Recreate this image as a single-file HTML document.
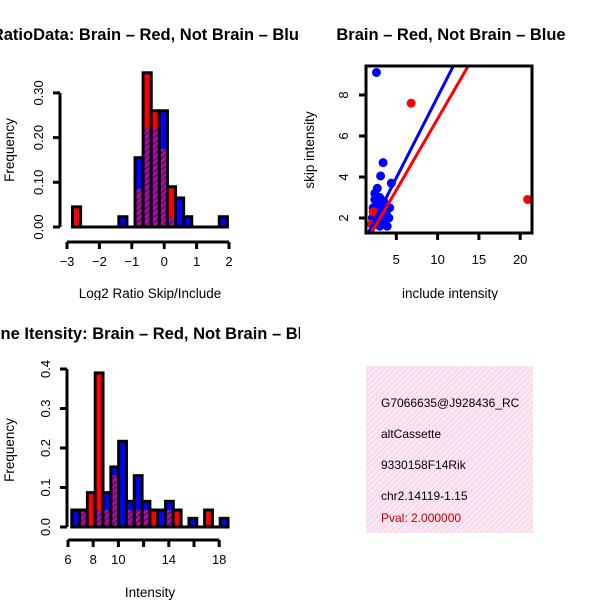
<!DOCTYPE html>
<html><head><meta charset="utf-8"><style>
body{margin:0;background:#fff;}
svg{display:block;font-family:"Liberation Sans",Arial,sans-serif;}
</style></head><body>
<svg id="root" width="600" height="600" viewBox="0 0 600 600">
<defs>
<pattern id="hatch" width="4" height="4" patternUnits="userSpaceOnUse" patternTransform="rotate(45)">
<rect width="4" height="4" fill="#8b008b"/><line x1="0" y1="0" x2="0" y2="4" stroke="#b040b0" stroke-width="1.5"/>
</pattern>
<pattern id="pinkhatch" width="4" height="4" patternUnits="userSpaceOnUse" patternTransform="rotate(45)">
<rect width="4" height="4" fill="#fbe6f3"/><line x1="0" y1="0" x2="0" y2="4" stroke="#f2c2e0" stroke-width="1.2"/>
</pattern>
</defs>
<svg id="p1" x="0" y="0" width="300" height="300"></svg>
<svg id="p2" x="300" y="0" width="300" height="300"></svg>
<svg id="p3" x="0" y="300" width="300" height="300"></svg>
<g>
<rect x="366" y="366" width="167" height="167" fill="url(#pinkhatch)"/>
<svg x="366" y="366" width="167" height="167">
<text x="15" y="41" font-size="12">G7066635@J928436_RC</text>
<text x="15" y="72" font-size="12">altCassette</text>
<text x="15" y="103" font-size="12">9330158F14Rik</text>
<text x="15" y="134" font-size="12">chr2.14119-1.15</text>
<text x="15" y="156" font-size="12" fill="#c00000">Pval: 2.000000</text>
</svg>
</g>
</svg>
<script>
// ---- Histogram 1 data ----
const h1Width = 0.25;
const h1Bins = [-2.83,-1.4,-0.9,-0.65,-0.4,-0.15,0.1,0.35,0.6,1.7];
const h1Red  = [0.045,0,0.085,0.345,0.26,0.175,0.09,0,0,0];
const h1Blue = [0,0.023,0.155,0.22,0.22,0.26,0.023,0.065,0.023,0.023];
const h1XTicks = [-3,-2,-1,0,1,2];
const h1YTicks = ["0.00","0.10","0.20","0.30"];
// ---- Histogram 2 data ----
const h2Width = 0.62;
const h2Bins = [6.3,6.92,7.54,8.16,8.78,9.4,10.02,10.64,11.26,11.88,12.5,13.12,13.74,14.36,14.98,15.6,16.22,16.84,17.46,18.08];
const h2Red  = [0,0.043,0.087,0.39,0.043,0.13,0,0.043,0.043,0.043,0.043,0,0.043,0.043,0,0,0,0.043,0,0];
const h2Blue = [0.043,0.043,0,0.043,0.087,0.152,0.217,0.065,0.13,0.065,0,0.043,0.065,0,0,0.022,0,0,0,0.022];
const h2XTicks = [6,8,10,14,18];
const h2XMinor = [6,8,10,12,14,16,18];
const h2YTicks = ["0.0","0.1","0.2","0.3","0.4"];
// ---- Scatter data ----
const scRedX = [6.8,20.9,2.0,2.2];
const scRedY = [7.6,2.9,1.7,2.3];
const scBlueX = [2.6,3.4,3.1,4.4,2.7,2.4,2.4,2.2,2.9,3.3,3.8,2.5,3.0,3.6,4.1,2.3,2.8,3.2,3.9,2.6,3.5,4.2,3.0,2.1,3.7,2.9];
const scBlueY = [9.1,4.7,4.05,3.7,3.45,3.2,2.9,2.5,2.7,2.4,2.2,2.1,3.0,2.6,2.0,1.9,1.8,2.2,1.6,2.3,2.8,2.5,1.6,2.0,1.9,2.1];
const lineBlue = [1.6,1.27,11.9,9.41];
const lineRed  = [2.0,1.27,13.7,9.41];
const scXTicks = [5,10,15,20];
const scYTicks = [2,4,6,8];

const NS="http://www.w3.org/2000/svg";
function mk(parent,tag,attrs,text){const e=document.createElementNS(NS,tag);for(const k in attrs)e.setAttribute(k,attrs[k]);if(text!==undefined)e.textContent=text;parent.appendChild(e);return e;}

function histogram(svg,o){
  const X=v=>o.x0+(v-o.xv0)*o.kx, Y=v=>o.y0-v*o.ky;
  const t=mk(svg,'text',{x:150,y:o.titleY,'text-anchor':'middle','font-size':16.5,'font-weight':'bold'},o.title);
  
  // baseline
  const fx=X(o.bins[0]), lx=X(o.bins[o.bins.length-1]+o.w);
  mk(svg,'line',{x1:fx,x2:lx,y1:Y(0),y2:Y(0),stroke:'#000','stroke-width':3});
  o.red.forEach((r,i)=>{
    const b=o.blue[i]; if(r===0&&b===0) return;
    const x1=X(o.bins[i]), x2=X(o.bins[i]+o.w);
    const hi=Math.max(r,b), lo=Math.min(r,b);
    const g=mk(svg,'g',{});
    
    mk(g,'rect',{x:x1,y:Y(hi),width:x2-x1,height:Y(0)-Y(hi),fill:r>b?'#ff0000':'#0000ff'});
    if(lo>0) mk(g,'rect',{x:x1,y:Y(lo),width:x2-x1,height:Y(0)-Y(lo),fill:'url(#hatch)'});
    mk(g,'rect',{x:x1,y:Y(hi),width:x2-x1,height:Y(0)-Y(hi),fill:'none',stroke:'#000','stroke-width':3});
  });
  const ya=mk(svg,'g',{});
  const yt=o.yTicks.map(parseFloat);
  mk(ya,'line',{x1:o.yAxisX,x2:o.yAxisX,y1:Y(yt[0]),y2:Y(yt[yt.length-1]),stroke:'#000','stroke-width':3});
  o.yTicks.forEach(s=>{const v=parseFloat(s);
    mk(ya,'line',{x1:o.yAxisX-7,x2:o.yAxisX,y1:Y(v),y2:Y(v),stroke:'#000','stroke-width':3});
    const tl=mk(ya,'text',{x:o.yAxisX-17,y:Y(v),'font-size':13,'text-anchor':'middle',transform:`rotate(-90 ${o.yAxisX-17} ${Y(v)})`},s);
    
  });
  const xa=mk(svg,'g',{});
  const mt=o.xMinor||o.xTicks;
  mk(xa,'line',{x1:X(mt[0]),x2:X(mt[mt.length-1]),y1:o.xAxisY,y2:o.xAxisY,stroke:'#000','stroke-width':3});
  mt.forEach(v=>mk(xa,'line',{x1:X(v),x2:X(v),y1:o.xAxisY,y2:o.xAxisY+7,stroke:'#000','stroke-width':3}));
  o.xTicks.forEach(v=>{const tl=mk(xa,'text',{x:X(v),y:o.xAxisY+24,'font-size':13,'text-anchor':'middle'},String(v).replace('-','\u2212'));
    });
  const xl=mk(svg,'text',{x:150,y:o.xLabelY,'font-size':13.5,'text-anchor':'middle'},o.xLabel);
  
  const yl=mk(svg,'text',{x:14,y:o.yLabelCY,'font-size':13.5,'text-anchor':'middle',transform:`rotate(-90 14 ${o.yLabelCY})`},'Frequency');
  
}

histogram(document.getElementById('p1'),{red:h1Red,blue:h1Blue,bins:h1Bins,w:h1Width,xv0:-3,x0:67,kx:32.4,y0:227,ky:447,
  yTicks:h1YTicks,xTicks:h1XTicks,yAxisX:60,xAxisY:242,title:'RatioData: Brain \u2013 Red, Not Brain \u2013 Blue',titleY:40,
  xLabel:'Log2 Ratio Skip/Include',xLabelY:298,yLabelCY:150});
histogram(document.getElementById('p3'),{red:h2Red,blue:h2Blue,bins:h2Bins,w:h2Width,xv0:6,x0:68,kx:12.6,y0:227,ky:395,
  yTicks:h2YTicks,xTicks:h2XTicks,xMinor:h2XMinor,yAxisX:67,xAxisY:240,title:'Gene Itensity: Brain \u2013 Red, Not Brain \u2013 Blue',titleY:39,
  xLabel:'Intensity',xLabelY:297,yLabelCY:150});

(function(){
  const svg=document.getElementById('p2');
  const X=v=>55+v*8.26, Y=v=>259-v*20.5;
  const t=mk(svg,'text',{x:151,y:40,'text-anchor':'middle','font-size':16.5,'font-weight':'bold'},'Brain \u2013 Red, Not Brain \u2013 Blue');
  
  const clip=mk(svg,'svg',{x:66,y:66,width:166,height:167});
  const cg=mk(clip,'g',{transform:'translate(-66,-66)'});
  scBlueX.forEach((x,i)=>{const c=mk(cg,'circle',{cx:X(x),cy:Y(scBlueY[i]),r:4.5,fill:'#0000ff'});
    });
  scRedX.forEach((x,i)=>{const c=mk(cg,'circle',{cx:X(x),cy:Y(scRedY[i]),r:4.5,fill:'#ff0000'});
    });
  const lb=mk(cg,'line',{x1:X(lineBlue[0]),y1:Y(lineBlue[1]),x2:X(lineBlue[2]),y2:Y(lineBlue[3]),stroke:'#0000ff','stroke-width':3});
  
  const lr=mk(cg,'line',{x1:X(lineRed[0]),y1:Y(lineRed[1]),x2:X(lineRed[2]),y2:Y(lineRed[3]),stroke:'#ff0000','stroke-width':3});
  
  const box=mk(svg,'rect',{x:66,y:66,width:166,height:167,fill:'none',stroke:'#000','stroke-width':3});
  
  scXTicks.forEach(v=>{mk(svg,'line',{x1:X(v),x2:X(v),y1:233,y2:240,stroke:'#000','stroke-width':3});
    const tl=mk(svg,'text',{x:X(v),y:264,'font-size':13,'text-anchor':'middle'},v);
    });
  scYTicks.forEach(v=>{mk(svg,'line',{x1:59,x2:66,y1:Y(v),y2:Y(v),stroke:'#000','stroke-width':3});
    const tl=mk(svg,'text',{x:48,y:Y(v),'font-size':13,'text-anchor':'middle',transform:`rotate(-90 48 ${Y(v)})`},v);
    });
  const xl=mk(svg,'text',{x:150,y:298,'font-size':13.5,'text-anchor':'middle'},'include intensity');
  
  const yl=mk(svg,'text',{x:14,y:150,'font-size':13.5,'text-anchor':'middle',transform:'rotate(-90 14 150)'},'skip intensity');
  
})();
</script>
</body></html>
